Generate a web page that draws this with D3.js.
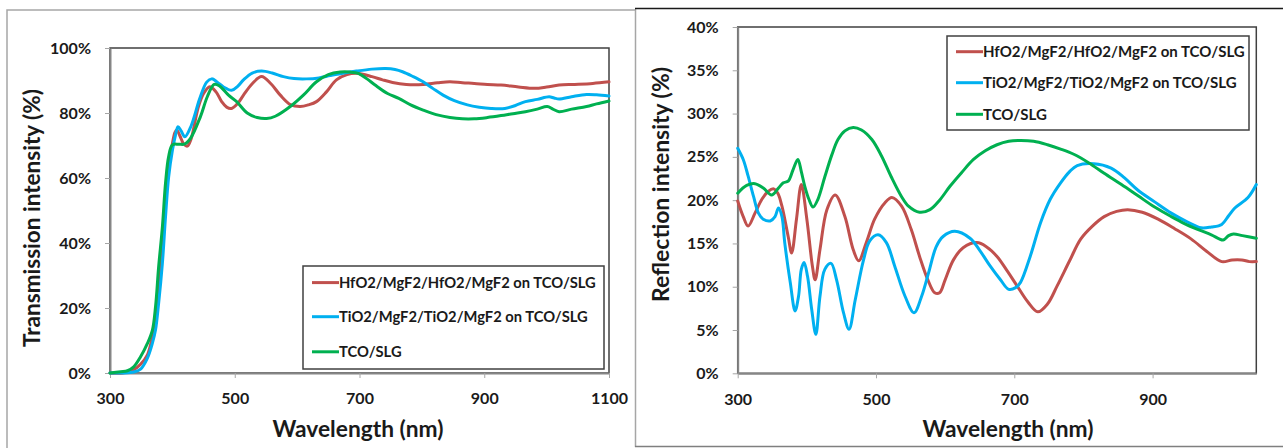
<!DOCTYPE html>
<html>
<head>
<meta charset="utf-8">
<script src="https://cdn.jsdelivr.net/npm/d3@7"></script>
<style>
  html, body { margin: 0; padding: 0; background: #ffffff; }
  svg { display: block; }
</style>
</head>
<body>
<svg id="chart" width="1283" height="448"></svg>
<script>
// ---------------- DATA ----------------
const seriesLabels = [
  "HfO2/MgF2/HfO2/MgF2 on TCO/SLG",
  "TiO2/MgF2/TiO2/MgF2 on TCO/SLG",
  "TCO/SLG"
];
const seriesColors = ["#C0504D", "#00B0F0", "#00B050"];

// Transmission (%), [wavelength nm, value %]
const transHfO2 = [[300,0],[320,0],[338,1],[349,2.7],[360,5.6],[368,11.3],[373,17],[378,27],[384,40],[389,53],[394,63],[400,70.5],[404,74],[407,74.8],[412,73],[418,70.5],[424,69.8],[430,72],[441,81.4],[450,86],[460,88.1],[470,86.5],[479,83.5],[487,81.8],[495,81.4],[505,83],[514,85.5],[528,89],[543,91.2],[558,89],[573,85.5],[590,82.5],[605,82],[618,82.5],[631,83.5],[647,86.5],[663,90.2],[680,91.8],[695,92.2],[720,91.2],[737,90.2],[753,89.4],[775,88.8],[802,88.8],[825,89.3],[845,89.6],[865,89.3],[884,89.1],[905,88.8],[927,88.6],[955,88],[981,87.6],[1000,88],[1020,88.6],[1045,88.8],[1074,89.1],[1100,89.6]];
const transTiO2 = [[300,0],[320,0],[338,0.3],[349,1.2],[360,4.6],[368,9.2],[373,13.3],[378,21.5],[384,33.8],[389,48],[394,60.3],[400,68.5],[405,73.2],[409,75.8],[414,74.5],[420,72.7],[430,76],[444,84.5],[455,89.5],[463,90.5],[472,89.5],[482,88],[495,87],[505,88.3],[514,90.2],[528,92.3],[543,92.9],[560,92.3],[578,91.2],[595,90.6],[615,90.5],[635,90.8],[653,91.5],[675,92.3],[695,92.9],[720,93.5],[742,93.7],[757,93.4],[769,92.7],[785,91.3],[802,89.6],[818,87.5],[834,85.5],[852,83.8],[873,82.5],[892,81.8],[911,81.4],[933,81.4],[950,82.3],[966,83.5],[985,84.2],[1004,85],[1012,84.6],[1020,84.3],[1040,85],[1064,85.7],[1080,85.6],[1100,85.2]];
const transTCO = [[300,0],[317,0.4],[328,0.7],[338,1.9],[349,5],[360,9.1],[368,13.2],[373,20.4],[378,32.7],[384,45],[389,58.4],[394,66.6],[400,70.2],[410,70.4],[419,70.4],[429,72.2],[445,78.9],[456,85],[467,88.8],[475,88.4],[490,85.5],[503,83.5],[520,80],[536,78.6],[551,78.3],[565,79],[589,82],[610,85.5],[631,89.6],[650,91.8],[669,92.6],[685,92.6],[698,92.2],[712,90.5],[725,88.6],[745,86],[763,84.5],[782,82.5],[802,80.9],[823,79.5],[845,78.6],[865,78.2],[884,78.2],[905,78.6],[927,79.2],[946,79.8],[966,80.4],[985,81.2],[1001,82],[1010,81.2],[1020,80.4],[1040,81.2],[1064,82],[1080,82.8],[1100,83.7]];

// Reflection (%), [wavelength nm, value %]
const reflHfO2 = [[300,19.9],[308,18.1],[315,17.0],[325,18.5],[335,20.1],[344,21.0],[352,21.3],[358,20.8],[364,19.3],[373,15.8],[378,13.9],[385,17.8],[392,21.8],[400,17.8],[408,12.4],[412,10.8],[419,14.3],[429,18.9],[441,20.6],[455,18.1],[467,14.3],[475,13.0],[486,15.1],[498,17.8],[513,19.7],[523,20.3],[537,19.3],[551,16.6],[563,13.5],[575,10.8],[585,9.3],[592,9.3],[600,10.8],[612,13.1],[626,14.5],[646,15.1],[660,14.6],[675,13.5],[690,11.8],[704,10.1],[720,8.2],[734,7.1],[748,8.0],[762,10.1],[780,13.0],[796,15.5],[813,17.0],[830,18.1],[848,18.7],[864,18.9],[885,18.6],[908,17.8],[932,16.7],[956,15.5],[978,14.1],[1000,12.9],[1015,13.1],[1029,13.1],[1040,12.9],[1050,12.9]];
const reflTiO2 = [[300,26.0],[308,24.7],[315,22.8],[323,20.4],[330,18.5],[337,17.8],[347,17.6],[354,18.1],[359,19.1],[364,18.1],[368,15.1],[376,10.5],[383,7.2],[388,8.9],[392,12.0],[396,12.8],[401,11.2],[407,7.4],[413,4.5],[419,8.9],[426,12.0],[435,12.7],[443,10.8],[453,7.0],[461,5.1],[470,8.5],[482,13.1],[491,15.3],[503,16.0],[515,15.1],[527,12.4],[542,8.9],[555,7.0],[566,8.9],[576,11.6],[587,14.6],[597,15.8],[614,16.4],[636,15.6],[650,14.2],[665,12.4],[680,10.8],[692,9.7],[702,9.9],[709,10.5],[723,13.5],[738,17.4],[752,20.1],[767,22.0],[780,23.3],[791,24.0],[815,24.2],[840,23.7],[859,22.6],[878,21.2],[903,19.8],[927,18.5],[950,17.5],[970,16.8],[985,16.9],[1000,17.2],[1010,18.2],[1019,19.1],[1038,20.3],[1050,21.8]];
const reflTCO = [[300,20.8],[313,21.7],[325,21.9],[337,21.4],[349,20.6],[359,21.4],[366,22.0],[373,22.2],[380,23.5],[387,24.7],[392,23.3],[397,21.6],[403,20.1],[409,19.2],[416,20.1],[426,22.7],[436,25.2],[445,27.0],[455,28.0],[467,28.4],[479,28.1],[494,27.0],[508,25.1],[522,22.7],[537,20.4],[547,19.3],[563,18.6],[578,18.9],[592,20.0],[607,21.6],[624,23.2],[641,24.7],[658,25.7],[675,26.4],[692,26.8],[709,26.9],[728,26.8],[748,26.4],[767,25.9],[786,25.3],[808,24.3],[830,23.1],[855,21.8],[879,20.5],[903,19.2],[927,18.1],[946,17.3],[966,16.6],[985,16.0],[1002,15.4],[1010,15.9],[1017,16.1],[1030,15.9],[1050,15.6]];

// Axis ticks
const transXTicks = [300, 500, 700, 900, 1100];
const transYTicks = [0, 20, 40, 60, 80, 100];
const reflXTicks = [300, 500, 700, 900];
const reflYTicks = [0, 5, 10, 15, 20, 25, 30, 35, 40];

const xTitle = "Wavelength (nm)";
const transYTitle = "Transmission intensity (%)";
const reflYTitle = "Reflection intensity (%)";

// ---------------- DRAW ----------------
const FONT = "Lato, 'Open Sans', 'Noto Sans', sans-serif";
const svg = d3.select("#chart");

// outer frames
svg.append("path").attr("d", "M7,470 V10 H635").attr("fill", "none")
  .attr("stroke", "#a6a6a6").attr("stroke-width", 1.5);
svg.append("line").attr("x1", 635.5).attr("x2", 635.5).attr("y1", 9).attr("y2", 447)
  .attr("stroke", "#a6a6a6").attr("stroke-width", 1.5);
svg.append("line").attr("x1", 635).attr("x2", 1283).attr("y1", 8.5).attr("y2", 8.5)
  .attr("stroke", "#1a1a1a").attr("stroke-width", 1.5);
svg.append("line").attr("x1", 635).attr("x2", 1283).attr("y1", 446.5).attr("y2", 446.5)
  .attr("stroke", "#7f7f7f").attr("stroke-width", 1.5);

function fitText(sel, target) {
  const n = sel.node();
  const fs = parseFloat(sel.attr("font-size"));
  const len = n.getComputedTextLength();
  if (len > 0) sel.attr("font-size", (fs * target / len).toFixed(2));
}

function drawChart(cfg) {
  const {left, right, top, bottom} = cfg;
  const x = d3.scaleLinear().domain(cfg.xDomain).range([left, right]);
  const y = d3.scaleLinear().domain(cfg.yDomain).range([bottom, top]);
  const g = svg.append("g");

  // plot area border
  g.append("rect").attr("x", left).attr("y", top).attr("width", right - left).attr("height", bottom - top)
    .attr("fill", "none").attr("stroke", "#404040").attr("stroke-width", 1.5);

  const clipId = "clip" + cfg.id;
  svg.append("clipPath").attr("id", clipId).append("rect")
    .attr("x", left - 3).attr("y", top - 3).attr("width", right - left + 6).attr("height", bottom - top + 6);

  // axes
  const yAxis = g.append("g").attr("transform", `translate(${left},0)`)
    .call(d3.axisLeft(y).tickValues(cfg.yTicks).tickSize(5).tickSizeOuter(0).tickPadding(14)
      .tickFormat(d => d + "%"));
  const xAxis = g.append("g").attr("transform", `translate(0,${bottom})`)
    .call(d3.axisBottom(x).tickValues(cfg.xTicks).tickSize(5).tickSizeOuter(0).tickPadding(15)
      .tickFormat(d3.format("d")));
  [yAxis, xAxis].forEach(a => {
    a.select(".domain").attr("stroke", "#868686").attr("stroke-width", 2);
    a.selectAll(".tick line").attr("stroke", "#a6a6a6").attr("stroke-width", 1);
    a.selectAll("text").attr("font-family", FONT).attr("font-weight", "bold")
      .attr("font-size", 16).attr("fill", "#1a1a1a");
  });

  // lines
  const line = d3.line().x(d => x(d[0])).y(d => y(d[1])).curve(d3.curveCatmullRom.alpha(0.5));
  const lg = g.append("g").attr("clip-path", `url(#${clipId})`);
  cfg.series.forEach((s, i) => {
    lg.append("path").datum(s).attr("d", line).attr("fill", "none")
      .attr("stroke", seriesColors[i]).attr("stroke-width", 3)
      .attr("stroke-linejoin", "round").attr("stroke-linecap", "round");
  });

  // titles
  const xt = g.append("text").text(xTitle).attr("x", cfg.xTitleX).attr("y", 437)
    .attr("text-anchor", "middle").attr("font-family", FONT).attr("font-weight", "bold")
    .attr("font-size", 22).attr("fill", "#1a1a1a");
  fitText(xt, 171);
  const yt = g.append("text").text(cfg.yTitle)
    .attr("transform", `translate(${cfg.yTitleX},${cfg.yTitleY}) rotate(-90)`)
    .attr("text-anchor", "middle").attr("dy", "0.36em")
    .attr("font-family", FONT).attr("font-weight", "bold")
    .attr("font-size", 22).attr("fill", "#1a1a1a");
  fitText(yt, cfg.yTitleLen);

  // legend
  const L = cfg.legend;
  g.append("rect").attr("x", L.x).attr("y", L.y).attr("width", L.w).attr("height", L.h)
    .attr("fill", "#ffffff").attr("stroke", "#404040").attr("stroke-width", 1.5);
  let fs = 15;
  seriesLabels.forEach((lab, i) => {
    const yy = L.rows[i];
    g.append("line").attr("x1", L.x + 9).attr("x2", L.x + 36).attr("y1", yy).attr("y2", yy)
      .attr("stroke", seriesColors[i]).attr("stroke-width", 3);
    const t = g.append("text").text(lab).attr("x", L.x + 36).attr("y", yy).attr("dy", "0.36em")
      .attr("font-family", FONT).attr("font-weight", "bold").attr("font-size", fs).attr("fill", "#1a1a1a");
    if (i === 0) { fitText(t, L.textLen); fs = parseFloat(t.attr("font-size")); }
  });
}

drawChart({
  id: "T", left: 110, right: 609, top: 48, bottom: 373,
  xDomain: [300, 1100], yDomain: [0, 100],
  xTicks: transXTicks, yTicks: transYTicks,
  series: [transHfO2, transTiO2, transTCO],
  xTitleX: 358, yTitle: transYTitle, yTitleX: 32, yTitleY: 218, yTitleLen: 258,
  legend: {x: 303, y: 266, w: 301, h: 103, rows: [282.6, 316.7, 351.8], textLen: 257}
});

drawChart({
  id: "R", left: 737.7, right: 1256.3, top: 27, bottom: 373.3,
  xDomain: [300, 1050], yDomain: [0, 40],
  xTicks: reflXTicks, yTicks: reflYTicks,
  series: [reflHfO2, reflTiO2, reflTCO],
  xTitleX: 1008, yTitle: reflYTitle, yTitleX: 661, yTitleY: 184.5, yTitleLen: 235,
  legend: {x: 947, y: 36, w: 302, h: 94, rows: [51.7, 82.7, 114.3], textLen: 262}
});
</script>
</body>
</html>
